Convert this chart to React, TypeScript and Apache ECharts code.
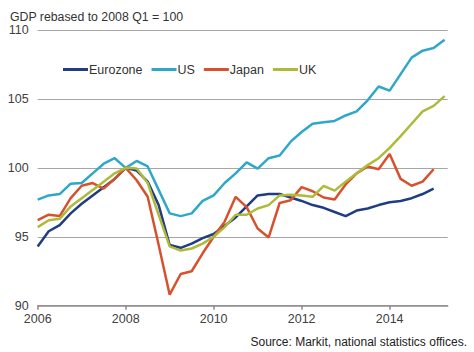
import React, { useEffect, useRef } from "react";
import * as echarts from "echarts";

const startYear = 2006;
const seriesNames = ["Eurozone", "US", "Japan", "UK"];
const seriesColors = ["#1f3d80", "#2fa8c8", "#d6522c", "#adba3a"];

const eurozone = [94.3, 95.4, 95.85, 96.7, 97.4, 98.0, 98.6, 99.2, 100, 99.8, 99.0, 97.3, 94.4, 94.2, 94.5, 94.9, 95.2, 95.8, 96.4, 97.2, 98.0, 98.1, 98.1, 97.85, 97.6, 97.3, 97.1, 96.8, 96.5, 96.9, 97.05, 97.3, 97.5, 97.6, 97.8, 98.1, 98.5];
const us = [97.7, 98.0, 98.1, 98.85, 98.9, 99.6, 100.3, 100.7, 100.0, 100.5, 100.1, 98.4, 96.7, 96.5, 96.7, 97.6, 98.0, 98.9, 99.6, 100.4, 99.95, 100.7, 100.9, 101.9, 102.6, 103.2, 103.3, 103.4, 103.8, 104.1, 104.9, 105.9, 105.6, 106.8, 108.0, 108.5, 108.7, 109.3];
const japan = [96.2, 96.6, 96.5, 97.8, 98.7, 98.9, 98.5, 99.2, 100, 99.1, 97.9, 94.4, 90.8, 92.3, 92.5, 93.8, 95.0, 96.1, 97.9, 97.15, 95.6, 94.95, 97.45, 97.65, 98.6, 98.3, 97.85, 97.7, 98.8, 99.6, 100.1, 99.9, 101.0, 99.2, 98.7, 99.0, 99.9];
const uk = [95.7, 96.2, 96.3, 97.2, 97.8, 98.4, 99.0, 99.6, 100, 99.95, 98.9, 96.6, 94.3, 94.0, 94.15, 94.5, 95.0, 95.7, 96.6, 96.6, 97.05, 97.3, 98.0, 98.05, 98.0, 97.9, 98.7, 98.35, 99.0, 99.6, 100.2, 100.7, 101.45, 102.3, 103.2, 104.1, 104.5, 105.2];

const seriesValues = [eurozone, us, japan, uk];
const yTicks = [90, 95, 100, 105, 110];
const xTickLabels = ["2006", "2008", "2010", "2012", "2014"];

const titleText = "GDP rebased to 2008 Q1 = 100";
const sourceText = "Source: Markit, national statistics offices.";

const FONT = "'Liberation Sans', Arial, sans-serif";

export default function App() {
  const ref = useRef<HTMLDivElement>(null);
  useEffect(() => {
    if (!ref.current) return;
    const chart = echarts.init(ref.current, null, { renderer: "svg" });
    const series = seriesNames.map((name, s) => ({
      name,
      type: "line",
      data: seriesValues[s].map((v, i) => [startYear + i * 0.25, v]),
      showSymbol: false,
      symbol: "none",
      lineStyle: { color: seriesColors[s], width: 2.5 },
      itemStyle: { color: seriesColors[s] },
      z: 3,
    }));
    chart.setOption({
      animation: false,
      backgroundColor: "#ffffff",
      textStyle: { fontFamily: FONT },
      title: {
        text: titleText,
        left: 5,
        top: 6,
        textStyle: { fontFamily: FONT, fontSize: 12.3, fontWeight: "normal", color: "#333333" },
      },
      legend: {
        data: seriesNames,
        left: 58,
        top: 58,
        icon: "rect",
        itemWidth: 25,
        itemHeight: 3,
        itemGap: 9,
        textStyle: { fontFamily: FONT, fontSize: 12.5, color: "#333333", padding: [0, 0, 0, -4] },
      },
      grid: { left: 37.7, right: 26.3, top: 30, bottom: 46.3, containLabel: false },
      xAxis: {
        type: "value",
        min: 2006,
        max: 2015.32,
        interval: 2,
        axisLine: { show: true, lineStyle: { color: "#8c8c8c", width: 1.5 } },
        axisTick: { show: true, length: 4, lineStyle: { color: "#8c8c8c", width: 1.5 } },
        splitLine: { show: false },
        axisLabel: {
          margin: 7,
          fontFamily: FONT,
          fontSize: 12.5,
          color: "#404040",
          showMaxLabel: false,
          formatter: (v: number) => {
            const s = String(Math.round(v));
            return xTickLabels.includes(s) ? s : "";
          },
        },
      },
      yAxis: {
        type: "value",
        min: yTicks[0],
        max: yTicks[yTicks.length - 1],
        interval: 5,
        axisLine: { show: false },
        axisTick: { show: false },
        splitLine: { show: true, lineStyle: { color: "#a6a6a6", width: 1 } },
        axisLabel: { margin: 9, fontFamily: FONT, fontSize: 12.5, color: "#404040" },
      },
      graphic: [
        {
          type: "text",
          right: 7,
          top: 336,
          style: { text: sourceText, font: `12px ${FONT}`, fill: "#222222" },
        },
      ],
      series,
    });
    return () => chart.dispose();
  }, []);
  return <div ref={ref} style={{ width: 474, height: 352, position: "absolute", left: 0, top: 0 }} />;
}
